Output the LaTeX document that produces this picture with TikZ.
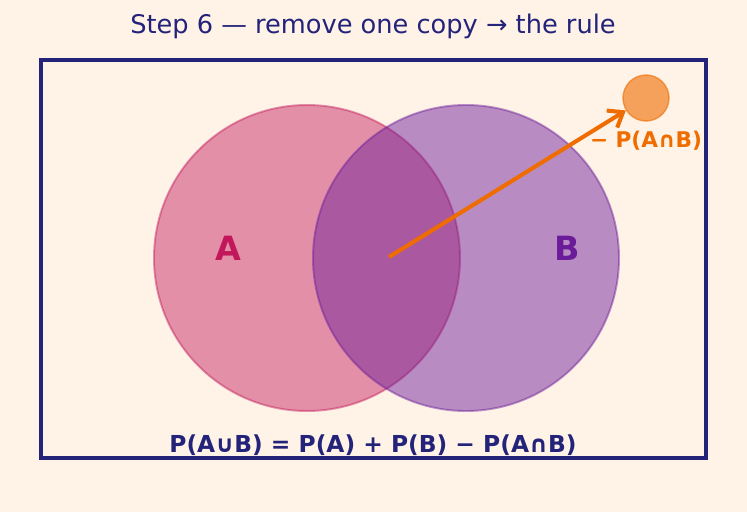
\documentclass[tikz,border=0pt]{standalone}
\usepackage{fontspec}
\setmainfont{DejaVu Sans}
\usepackage{xcolor}
\usetikzlibrary{arrows.meta}
\definecolor{VNCream}{HTML}{FFF2E6}
\definecolor{VNNavy}{HTML}{23237A}
\definecolor{VNRose}{HTML}{C2185B}
\definecolor{VNPurple}{HTML}{6A1B9A}
\definecolor{VNPurpleText}{HTML}{6A1B9A}
\definecolor{VNOrange}{HTML}{EF6C00}

\begin{document}
\begin{tikzpicture}[x=1cm,y=1cm]
\path[use as bounding box] (0,0) rectangle (14.94,10.24);
\fill[VNCream] (0,0) rectangle (14.94,10.24);
\node[VNNavy,font=\fontsize{14.6}{18}\selectfont] (title) at (7.46,9.71) {Step 6 — remove one copy → the rule};
\draw[VNNavy,line width=2.3pt] (0.82,1.08) rectangle (14.12,9.04);
\fill[VNRose,fill opacity=.45] (6.14,5.08) circle (3.06);
\draw[VNRose,line width=1.1pt,draw opacity=.45] (6.14,5.08) circle (3.06);
\fill[VNPurple,fill opacity=.47] (9.32,5.08) circle (3.06);
\draw[VNPurple,line width=1.1pt,draw opacity=.45] (9.32,5.08) circle (3.06);
\node[VNRose,font=\bfseries\fontsize{19}{22}\selectfont] (labA) at (4.56,5.28) {A};
\node[VNPurpleText,font=\bfseries\fontsize{19}{22}\selectfont] (labB) at (11.34,5.28) {B};
\node[circle,minimum size=0.92cm,inner sep=0pt,fill=VNOrange,fill opacity=.6,draw=VNOrange,draw opacity=.6,line width=.8pt] (cut) at (12.92,8.28) {};
\node[VNOrange,font=\bfseries\fontsize{12.3}{14}\selectfont] (cutlab) at (12.92,7.42) {− P(A∩B)};
\coordinate (mid) at (7.78,5.10);
\draw[VNOrange,line width=2.3pt,-{Straight Barb[length=2.6mm,width=4mm]}] (mid) -- (cut);
\node[VNNavy,font=\bfseries\fontsize{13.3}{16}\selectfont] (rule) at (7.46,1.34) {P(A∪B) = P(A) + P(B) − P(A∩B)};
\end{tikzpicture}
\end{document}
